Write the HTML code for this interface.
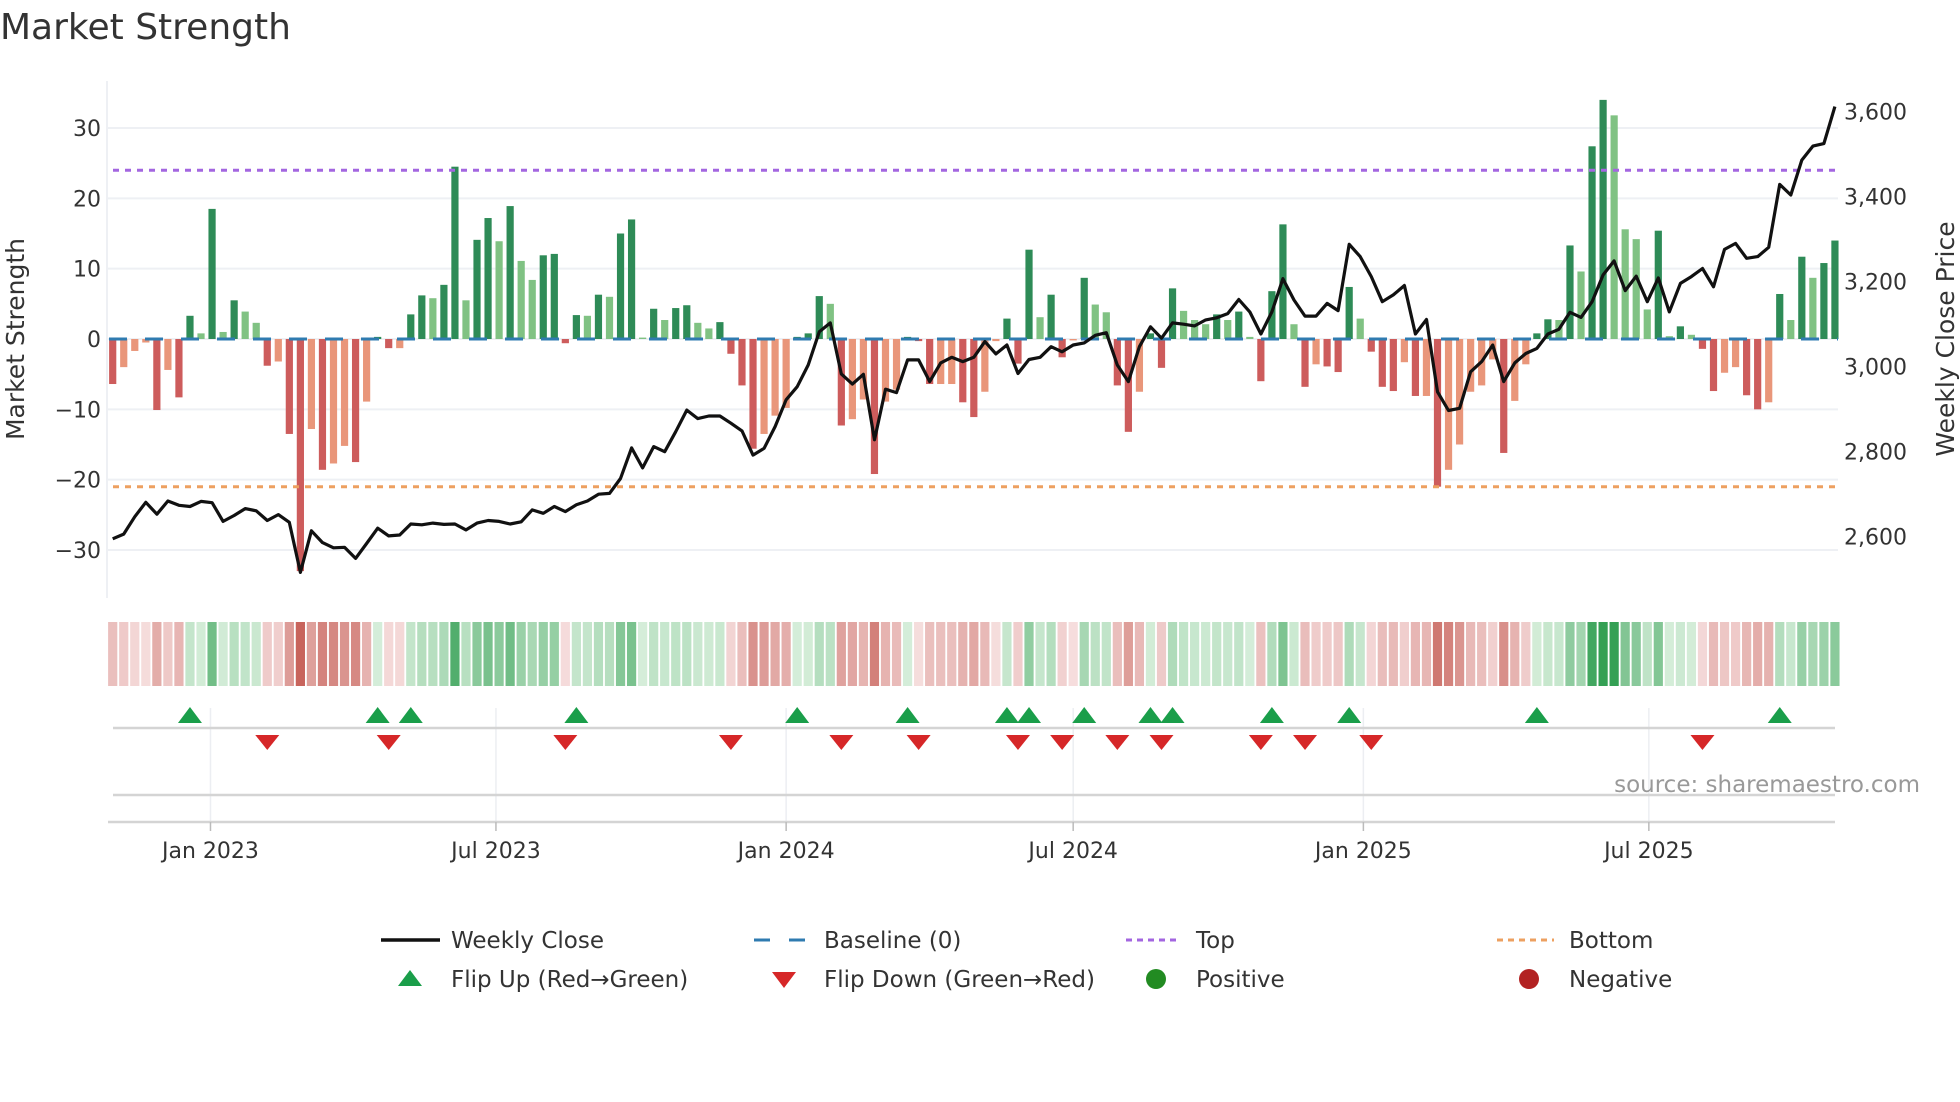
<!DOCTYPE html>
<html><head><meta charset="utf-8"><title>Market Strength</title>
<style>
html,body{margin:0;padding:0;background:#fff;}
svg{display:block;font-family:"DejaVu Sans","Liberation Sans",sans-serif;}
</style></head>
<body>
<svg id="chart" width="1960" height="1102" viewBox="0 0 1960 1102" xmlns="http://www.w3.org/2000/svg">
<text x="0" y="39" font-size="36" fill="#333">Market Strength</text>
<g id="grid"></g>
<g id="strip"></g>
<g id="bars"></g>
<g id="refs"></g>
<g id="price"></g>
<g id="flips"></g>
<g id="axes"></g>
<text transform="translate(24,339) rotate(-90)" text-anchor="middle" font-size="25" fill="#333">Market Strength</text>
<text transform="translate(1954,339) rotate(-90)" text-anchor="middle" font-size="25" fill="#333">Weekly Close Price</text>
<text x="1920" y="792" text-anchor="end" font-size="23" fill="#999">source: sharemaestro.com</text>
<g font-size="23" fill="#333">
  <g><line x1="381" y1="940" x2="440" y2="940" stroke="#111" stroke-width="3.5"/><text x="451" y="948">Weekly Close</text></g>
  <g><line x1="754" y1="940" x2="806" y2="940" stroke="#2f7bb0" stroke-width="3" stroke-dasharray="16 19"/><text x="824" y="948">Baseline (0)</text></g>
  <g><line x1="1126" y1="940" x2="1181" y2="940" stroke="#a366e0" stroke-width="3" stroke-dasharray="6 5"/><text x="1196" y="948">Top</text></g>
  <g><line x1="1497" y1="940" x2="1554" y2="940" stroke="#eda060" stroke-width="3" stroke-dasharray="6 5"/><text x="1569" y="948">Bottom</text></g>
  <g><polygon points="398,986 422,986 410,970" fill="#1a9e4a"/><text x="451" y="987">Flip Up (Red→Green)</text></g>
  <g><polygon points="772,972 796,972 784,988" fill="#d62728"/><text x="824" y="987">Flip Down (Green→Red)</text></g>
  <g><circle cx="1156" cy="979" r="10" fill="#228b22"/><text x="1196" y="987">Positive</text></g>
  <g><circle cx="1529" cy="979" r="10" fill="#b22222"/><text x="1569" y="987">Negative</text></g>
</g>
</svg>
<script>
const strengthValues = [-6.4,-4.0,-1.7,-0.5,-10.1,-4.4,-8.3,3.3,0.8,18.5,1.0,5.5,3.9,2.3,-3.8,-3.2,-13.5,-33,-12.8,-18.6,-17.7,-15.2,-17.5,-8.9,0.3,-1.3,-1.3,3.5,6.2,5.8,7.7,24.5,5.5,14.1,17.2,13.9,18.9,11.1,8.4,11.9,
12.1,-0.6,3.4,3.3,6.3,6.0,15.0,17.0,0.2,4.3,2.7,4.4,4.8,2.3,1.5,2.4,-2.1,-6.6,-15.6,-13.5,-10.9,-9.8,0.3,0.8,6.1,5.0,-12.3,-11.4,-8.6,-19.2,-8.9,-7.2,0.3,-0.3,-6.4,-6.4,-6.4,-9.0,-11.1,-7.5,
-0.3,2.9,-3.5,12.7,3.1,6.3,-2.6,-0.2,8.7,4.9,3.8,-6.6,-13.2,-7.5,0.8,-4.1,7.2,4.0,2.7,2.1,3.5,2.7,3.9,0.3,-6.0,6.8,16.3,2.1,-6.8,-3.6,-3.9,-4.7,7.4,2.9,-1.8,-6.8,-7.4,-3.3,-8.1,-8.1,
-21,-18.6,-15.0,-7.5,-6.6,-2.9,-16.2,-8.8,-3.6,0.8,2.8,2.7,13.3,9.6,27.4,34,31.8,15.6,14.2,4.2,15.4,0.4,1.8,0.6,-1.4,-7.4,-4.8,-4.0,-8.0,-10.0,-9.0,6.4,2.7,11.7,8.7,10.8,14.0];
const closePrices = [2595,2606,2647,2681,2653,2684,2674,2671,2683,2680,2636,2650,2666,2661,2638,2652,2634,2516,2614,2586,2574,2575,2549,2584,2620,2602,2604,2630,2628,2632,2629,2630,2616,2632,2638,2636,2630,2635,2663,2655,
2671,2659,2675,2684,2700,2702,2737,2809,2762,2812,2800,2847,2898,2878,2884,2884,2867,2849,2792,2808,2859,2922,2953,3004,3082,3103,2983,2959,2982,2828,2947,2939,3016,3016,2965,3009,3022,3012,3022,3059,
3030,3051,2984,3017,3022,3047,3035,3051,3056,3074,3080,3004,2965,3047,3094,3067,3103,3100,3096,3110,3115,3125,3158,3129,3077,3129,3207,3157,3119,3119,3149,3132,3288,3259,3212,3153,3169,3191,3077,3111,
2941,2897,2902,2988,3012,3051,2965,3009,3031,3043,3077,3088,3128,3116,3153,3216,3249,3179,3213,3153,3209,3129,3196,3212,3231,3188,3276,3290,3255,3259,3281,3429,3404,3486,3519,3525,3612];
const firstWeek = "2022-10-31";
const yTicks = [-30,-20,-10,0,10,20,30];
const yTickLabels = ["\u221230","\u221220","\u221210","0","10","20","30"];
const y2Ticks = [2600,2800,3000,3200,3400,3600];
const y2TickLabels = ["2,600","2,800","3,000","3,200","3,400","3,600"];
const xTickDates = ["2023-01-01","2023-07-01","2024-01-01","2024-07-01","2025-01-01","2025-07-01"];
const xTickLabels = ["Jan 2023","Jul 2023","Jan 2024","Jul 2024","Jan 2025","Jul 2025"];
const topLevel = [24];
const bottomLevel = [-21];

const NS="http://www.w3.org/2000/svg";
const DAY=86400000, t0=Date.parse(firstWeek);
const X0=112.7, PXDAY=11.04/7;
function xDate(s){return X0+(Date.parse(s)-t0)/DAY*PXDAY;}
function xIdx(i){return X0+i*7*PXDAY;}
function y(v){return 339-v*7.033;}
function y2(p){return 366.7-(p-3000)*85/200;}
function el(tag,attrs,parent){const e=document.createElementNS(NS,tag);for(const k in attrs)e.setAttribute(k,attrs[k]);parent.appendChild(e);return e;}
const L=107,R=1838;
const grid=document.getElementById('grid'),bars=document.getElementById('bars'),refs=document.getElementById('refs'),
price=document.getElementById('price'),flips=document.getElementById('flips'),axes=document.getElementById('axes'),strip=document.getElementById('strip');

yTicks.forEach((v,i)=>{
  const g=el('line',{x1:L,x2:R,y1:y(v),y2:y(v),stroke:'#eef0f4','stroke-width':2},grid);
  
  
  const t=el('text',{x:101,y:y(v)+8,'text-anchor':'end','font-size':22,fill:'#333'},axes);
  t.textContent=yTickLabels[i];
  
  
});
y2Ticks.forEach((p,i)=>{
  const t=el('text',{x:1844,y:y2(p)+8,'font-size':22,fill:'#333'},axes);
  t.textContent=y2TickLabels[i];
  
  
});
const ax=el('line',{x1:L,x2:L,y1:81,y2:598,stroke:'#eef0f4','stroke-width':2},grid);



[[728,'marker-divider'],[795,'marker-lower-line'],[822,'x-axis-line']].forEach(a=>{
  const l=el('line',{x1:a[0]===822?108:113,x2:1835,y1:a[0],y2:a[0],stroke:'#d4d4d4','stroke-width':2.5},axes);
  
  
});
xTickDates.forEach((d,i)=>{
  const x=xDate(d);
  const g=el('line',{x1:x,x2:x,y1:708,y2:822,stroke:'#eceef2','stroke-width':1.5},grid);
  
  
  const tk=el('line',{x1:x,x2:x,y1:822,y2:831,stroke:'#bbb','stroke-width':1.5},axes);
  
  
  const t=el('text',{x:x,y:858,'text-anchor':'middle','font-size':22,fill:'#333'},axes);
  t.textContent=xTickLabels[i];
  
  
});

function mix(a,b,t){return 'rgb('+a.map((c,i)=>Math.round(c+(b[i]-c)*t)).join(',')+')';}
strengthValues.forEach((v,i)=>{
  const x=xIdx(i), prev=i?strengthValues[i-1]:0;
  const strong = v>=0 ? (v>prev||prev<0) : (v<prev||prev>0);
  const col = v>=0 ? (strong?'#2e8b57':'#80c283') : (strong?'#cd5c5c':'#e9967a');
  const top=Math.min(y(0),y(v)), h=Math.max(Math.abs(y(v)-y(0)),0.5);
  const b=el('rect',{x:x-3.6,y:top,width:7.2,height:h,fill:col},bars);
  
  
  const c = v>=0 ? mix([214,238,218],[52,160,84],Math.min(v/30,1)) : mix([246,222,222],[200,100,92],Math.min(-v/25,1));
  const s=el('rect',{x:x-4.6,y:622,width:9.2,height:64,fill:c},strip);
  
  
  if(i>0){
    if(v>0&&prev<=0){
      const m=el('polygon',{points:`${x-12},723 ${x+12},723 ${x},707`,fill:'#1a9e4a'},flips);
      
      
    } else if(v<0&&prev>=0){
      const m=el('polygon',{points:`${x-12},735 ${x+12},735 ${x},750`,fill:'#d62728'},flips);
      
      
    }
  }
});
const base=el('line',{x1:109,x2:1838,y1:y(0),y2:y(0),stroke:'#2f7bb0','stroke-width':3,'stroke-dasharray':'18 18'},refs);


const tl=el('line',{x1:113,x2:1838,y1:y(topLevel[0]),y2:y(topLevel[0]),stroke:'#a366e0','stroke-width':3,'stroke-dasharray':'6 6'},refs);


const bl=el('line',{x1:113,x2:1838,y1:y(bottomLevel[0]),y2:y(bottomLevel[0]),stroke:'#eda060','stroke-width':3,'stroke-dasharray':'6 6'},refs);



const pts=closePrices.map((p,i)=>xIdx(i).toFixed(1)+','+y2(p).toFixed(1)).join(' ');
const pl=el('polyline',{points:pts,fill:'none',stroke:'#111','stroke-width':3.2,'stroke-linejoin':'round'},price);


</script>
</body></html>
